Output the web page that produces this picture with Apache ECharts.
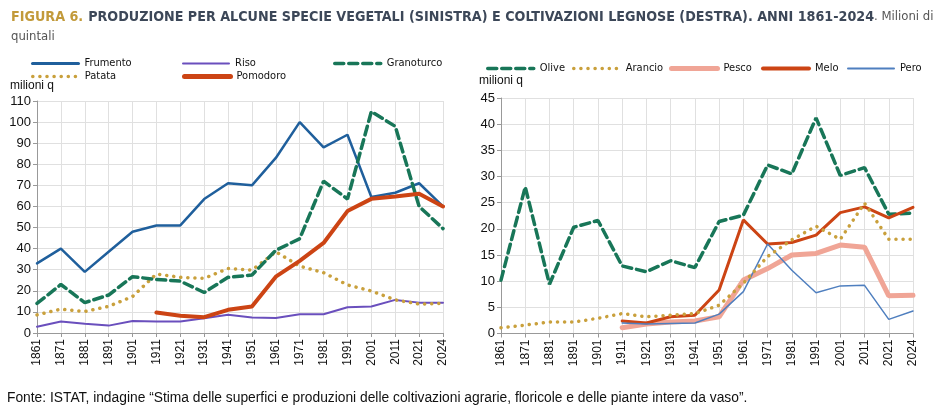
<!DOCTYPE html>
<html>
<head>
<meta charset="utf-8">
<script src="https://cdn.jsdelivr.net/npm/echarts@6/dist/echarts.min.js"></script>
<style>
  html, body { margin: 0; padding: 0; background: #fff; }
  #chart { width: 946px; height: 409px; }
</style>
</head>
<body>
<div id="chart"></div>
<script>
// categories (years)
var years = ['1861', '1871', '1881', '1891', '1901', '1911', '1921', '1931', '1941', '1951',
    '1961', '1971', '1981', '1991', '2001', '2011', '2021', '2024'];

// left chart: specie vegetali (milioni q)
var frumento = [33, 40, 29, 38.5, 48, 51, 51, 63.5, 71, 70, 83, 100, 88, 94, 64.5, 66.5, 71, 60];
var riso = [3, 5.5, 4.4, 3.5, 5.7, 5.5, 5.5, 7, 8.6, 7.4, 7.1, 8.9, 8.9, 12.2, 12.6, 15.7, 14.4, 14.4];
var granoturco = [14, 23, 14.4, 18, 26.7, 25.4, 24.6, 19.2, 26.4, 27.5, 39.2, 44.7, 72, 63.5, 105, 98, 60, 49.5];
var patata = [8.6, 11.3, 10.2, 12.6, 17.3, 28, 26.4, 25.9, 30.6, 29.8, 38.5, 31.7, 28.6, 22.8, 19.9, 15.7, 13.7, 14.1];
var pomodoro = [null, null, null, null, null, 9.7, 8.2, 7.5, 11, 12.6, 26.7, 34.2, 42.7, 57.8, 63.6, 64.7, 66, 60];

// right chart: coltivazioni legnose (milioni q)
var olive = [10.2, 28, 9.4, 20.3, 21.6, 12.9, 11.8, 13.9, 12.6, 21.4, 22.6, 32.2, 30.5, 41.2, 30.2, 31.7, 22.8, 23];
var arancio = [1.1, 1.6, 2.2, 2.2, 2.9, 3.8, 3.2, 3.5, 3.8, 5.4, 9.6, 14.7, 17.9, 20.5, 18, 24.9, 18, 18];
var pesco = [null, null, null, null, null, 1.1, 1.8, 2.2, 2.4, 3.2, 10.2, 12.4, 15, 15.3, 16.9, 16.5, 7.2, 7.3];
var melo = [null, null, null, null, null, 2.4, 2.0, 3.2, 3.5, 8.3, 21.7, 17.1, 17.4, 18.8, 23.1, 24.2, 22.1, 24.1];
var pero = [null, null, null, null, null, 2.0, 1.8, 1.9, 2.0, 3.7, 8.0, 17.1, 12.1, 7.8, 9.1, 9.2, 2.7, 4.3];

var cBlue = '#1f5f9c', cPurple = '#6a4fbd', cGreen = '#187658', cGold = '#c9a03c',
    cRed = '#cc4414', cSalmon = '#f0a596', cLight = '#4f7fbf';

var narrow = '"Liberation Sans Narrow", "Arial Narrow", "DejaVu Sans Condensed", sans-serif';
var sans = '"Liberation Sans", Arial, sans-serif';

function makeX(gridIndex) {
    return {
        type: 'category',
        gridIndex: gridIndex,
        data: years,
        boundaryGap: false,
        axisLine: { lineStyle: { color: '#999' } },
        axisTick: { show: true, length: 4, lineStyle: { color: '#999' } },
        axisLabel: { rotate: 90, color: '#111', fontFamily: sans, fontSize: 12, margin: 6 },
        splitLine: { show: true, lineStyle: { color: '#e0e0e0' } }
    };
}

function makeY(gridIndex, max, interval) {
    return {
        type: 'value',
        gridIndex: gridIndex,
        min: 0,
        max: max,
        interval: interval,
        axisLine: { show: true, lineStyle: { color: '#999' } },
        axisTick: { show: true, length: 4, lineStyle: { color: '#999' } },
        axisLabel: { color: '#111', fontFamily: sans, fontSize: 13, margin: 6 },
        splitLine: { show: true, lineStyle: { color: '#e0e0e0' } }
    };
}

function line(name, data, xi, color, width, type, z) {
    return {
        name: name,
        type: 'line',
        xAxisIndex: xi,
        yAxisIndex: xi,
        data: data,
        symbol: 'none',
        connectNulls: false,
        z: z || 2,
        lineStyle: { color: color, width: width, type: type || 'solid', cap: 'round' },
        itemStyle: { color: color }
    };
}

// one legend per item so each can sit where the original puts it
function leg(name, left, top, w) {
    return {
        data: [name],
        left: left,
        top: top,
        itemWidth: 46,
        itemHeight: 10,
        itemGap: 0,
        padding: 0,
        itemStyle: { opacity: 0 },
        lineStyle: { opacity: 1, width: w },
        textStyle: { fontFamily: narrow, fontSize: 11, color: '#111', padding: [0, 0, 0, 1] }
    };
}

var dashG = [9, 5];
var dotG = [0.1, 7];

var option = {
    animation: false,
    title: {
        left: 6,
        top: 2,
        text: '{a|FIGURA 6.} {b|PRODUZIONE PER ALCUNE SPECIE VEGETALI (SINISTRA) E COLTIVAZIONI LEGNOSE (DESTRA). ANNI 1861-2024}{c|. Milioni di}\n{c|quintali}',
        textStyle: {
            rich: {
                a: { fontFamily: narrow, fontWeight: 'bold', fontSize: 14.2, color: '#c29a3a', lineHeight: 20 },
                b: { fontFamily: narrow, fontWeight: 'bold', fontSize: 14.2, color: '#3c4758', lineHeight: 20 },
                c: { fontFamily: narrow, fontWeight: 'normal', fontSize: 13, color: '#555', lineHeight: 20 }
            }
        }
    },
    legend: [
        leg('Frumento', 31, 58, 3),
        leg('Riso', 182, 58, 2),
        leg('Granoturco', 333, 58, 3.5),
        leg('Patata', 31, 71, 3.5),
        leg('Pomodoro', 182, 71, 5),
        leg('Olive', 486, 63, 3.5),
        leg('Arancio', 572, 63, 3.5),
        leg('Pesco', 669, 63, 5),
        leg('Melo', 761, 63, 4),
        leg('Pero', 847, 63, 2)
    ],
    graphic: [
        { type: 'text', left: 10, top: 80, style: { text: 'milioni q', fontFamily: sans, fontSize: 12, fill: '#111' } },
        { type: 'text', left: 479, top: 75, style: { text: 'milioni q', fontFamily: sans, fontSize: 12, fill: '#111' } },
        { type: 'text', left: 7, top: 391, style: { text: 'Fonte: ISTAT, indagine \u201cStima delle superfici e produzioni delle coltivazioni agrarie, floricole e delle piante intere da vaso\u201d.', fontFamily: sans, fontSize: 13.8, fill: '#111' } }
    ],
    grid: [
        { left: 37, right: 503, top: 101, bottom: 76 },
        { left: 501, right: 33, top: 98, bottom: 75.5 }
    ],
    xAxis: [makeX(0), makeX(1)],
    yAxis: [makeY(0, 110, 10), makeY(1, 45, 5)],
    series: [
        line('Frumento', frumento, 0, cBlue, 2.5),
        line('Riso', riso, 0, cPurple, 2),
        line('Granoturco', granoturco, 0, cGreen, 3.5, dashG, 3),
        line('Patata', patata, 0, cGold, 3.5, dotG),
        line('Pomodoro', pomodoro, 0, cRed, 4, 'solid', 4),
        line('Olive', olive, 1, cGreen, 3.5, dashG),
        line('Arancio', arancio, 1, cGold, 3.5, dotG, 4),
        line('Pesco', pesco, 1, cSalmon, 5),
        line('Melo', melo, 1, cRed, 3, 'solid', 3),
        line('Pero', pero, 1, cLight, 1.5, 'solid', 3)
    ]
};

var myChart = echarts.init(document.getElementById('chart'));
myChart.setOption(option);
</script>
</body>
</html>
